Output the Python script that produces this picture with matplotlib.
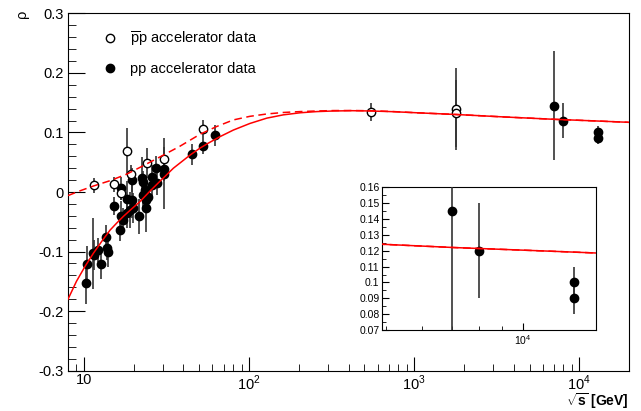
import math
import matplotlib
matplotlib.use('Agg')
import matplotlib.pyplot as plt
from matplotlib.lines import Line2D
from matplotlib.ticker import FixedLocator, FuncFormatter, MultipleLocator, LogLocator, NullFormatter

plt.rcParams['font.family'] = ['Liberation Sans', 'DejaVu Sans']
plt.rcParams['mathtext.fontset'] = 'custom'
plt.rcParams['mathtext.rm'] = 'Liberation Sans'
plt.rcParams['mathtext.bf'] = 'Liberation Sans:bold'

# pp data: sqrt(s) [GeV], rho, error
pp_s = [10.24, 10.47, 11.39, 11.50, 12.11, 12.63, 13.59, 13.84, 14.04, 15.26,
        16.41, 16.69, 16.69, 17.31, 18.15, 18.15, 19.0, 19.46, 19.46, 19.9,
        21.64, 22.37, 22.88, 22.88, 23.43, 23.76, 23.76, 24.53, 25.72, 25.72,
        27.32, 27.58, 30.54, 30.54, 44.95, 52.42, 62.23,
        7000, 8000, 13000, 13000]
pp_rho = [-0.153, -0.121, -0.103, -0.106, -0.097, -0.121, -0.075, -0.094, -0.101, -0.023,
          -0.063, -0.040, 0.006, -0.047, -0.036, -0.011, -0.030, 0.020, -0.013, -0.027,
          -0.041, 0.023, 0.016, -0.005, 0.003, -0.027, -0.013, -0.008, 0.026, 0.012,
          0.040, 0.015, 0.038, 0.031, 0.063, 0.077, 0.095,
          0.145, 0.12, 0.10, 0.09]
pp_err = [0.035, 0.03, 0.06, 0.025, 0.02, 0.025, 0.02, 0.02, 0.025, 0.015,
          0.02, 0.025, 0.02, 0.02, 0.025, 0.03, 0.03, 0.02, 0.03, 0.025,
          0.03, 0.035, 0.02, 0.02, 0.02, 0.04, 0.02, 0.02, 0.02, 0.02,
          0.02, 0.02, 0.02, 0.06, 0.017, 0.013, 0.018,
          0.091, 0.03, 0.01, 0.01]

# pbar-p data
ppbar_s = [11.50, 15.26, 16.69, 18.15, 19.2, 24.2, 30.4, 52.4, 546, 1800, 1800]
ppbar_rho = [0.011, 0.013, -0.001, 0.068, 0.030, 0.049, 0.056, 0.106, 0.135, 0.140, 0.132]
ppbar_err = [0.012, 0.013, 0.013, 0.04, 0.015, 0.025, 0.02, 0.015, 0.015, 0.069, 0.056]

# fit curves
fit_pp_s = [8.0, 9.0, 10.14, 11.39, 12.8, 14.38, 15.8, 17.31, 19.5, 21.85, 25.0, 28.6,
            34.8, 43.9, 50.0, 56.6, 66.7, 80.3, 101, 128, 161, 204, 257, 324,
            420, 547, 750, 1038, 1830, 3500, 7080, 12000, 19900]
fit_pp_rho = [-0.180, -0.150, -0.125, -0.103, -0.083, -0.064, -0.052, -0.041, -0.028, -0.016,
              0.001, 0.017, 0.040, 0.062, 0.073, 0.082, 0.093, 0.104, 0.115, 0.124,
              0.1295, 0.133, 0.135, 0.136, 0.1365, 0.136, 0.1348, 0.133, 0.130, 0.126,
              0.122, 0.1195, 0.117]
fit_ppbar_s = [8.0, 9.46, 11.39, 14.38, 18.15, 22.8, 28.9, 38.2, 50.5, 63.7, 80.3,
               101, 128, 161, 204, 257, 324, 420, 547, 750, 1038, 1830, 3500, 7080,
               12000, 19900]
fit_ppbar_rho = [-0.006, 0.002, 0.010, 0.019, 0.030, 0.044, 0.059, 0.077, 0.097, 0.110,
                 0.121, 0.127, 0.131, 0.1335, 0.135, 0.136, 0.1367, 0.1368, 0.1364, 0.1350,
                 0.133, 0.130, 0.126, 0.122, 0.1195, 0.117]

fig = plt.figure(figsize=(6.41, 4.11), dpi=100)
ax = fig.add_axes([68 / 641, 40.3 / 411, 561 / 641, 357.4 / 411])


def draw(a, ms):
    a.errorbar(pp_s, pp_rho, yerr=pp_err, fmt='o', color='black', ms=ms,
               ecolor='#333333', elinewidth=1.2, capsize=0, zorder=3)
    a.errorbar(ppbar_s, ppbar_rho, yerr=ppbar_err, fmt='o', color='black', ms=ms,
               mfc='white', mew=1.0, ecolor='#333333', elinewidth=1.2, capsize=0, zorder=3)
    a.plot(fit_ppbar_s, fit_ppbar_rho, color='red', lw=1.1, dashes=(5, 3), zorder=4)
    a.plot(fit_pp_s, fit_pp_rho, color='red', lw=1.1, zorder=4)
    a.set_xscale('log')


draw(ax, 6)
ax.set_xlim(8, 20000)
ax.set_ylim(-0.3, 0.3)
ax.xaxis.set_major_locator(FixedLocator([10, 100, 1000, 10000]))
ax.xaxis.set_major_formatter(FuncFormatter(
    lambda v, p: '10' if v == 10 else r'$10^{%d}$' % round(math.log10(v))))
ax.xaxis.set_minor_locator(LogLocator(base=10, subs=range(2, 10)))
ax.xaxis.set_minor_formatter(NullFormatter())
ax.yaxis.set_major_locator(MultipleLocator(0.1))
ax.yaxis.set_minor_locator(MultipleLocator(0.02))
ax.yaxis.set_major_formatter(FuncFormatter(lambda v, p: '%g' % round(v, 2)))
ax.tick_params(which='both', direction='in', top=False, right=False, labelsize=10.5)
ax.tick_params(axis='y', which='major', length=12, pad=3)
ax.tick_params(axis='y', which='minor', length=6)
ax.tick_params(axis='x', which='major', length=10, pad=2)
ax.tick_params(axis='x', which='minor', length=5)

fig.text(22 / 641, 1 - 10 / 411, 'ρ', rotation=90, ha='center', va='top', fontsize=10.5)
fig.text(629 / 641, 1 - 406 / 411, r'$\sqrt{\mathbf{s}}$ [GeV]', ha='right', va='baseline',
         fontsize=10, fontweight='bold')

handles = [Line2D([], [], ls='none', marker='o', ms=6, mfc='white', mec='black'),
           Line2D([], [], ls='none', marker='o', ms=6, color='black')]
ax.legend(handles, [r'$\overline{\mathrm{p}}$p accelerator data', 'pp accelerator data'],
          loc='upper left', bbox_to_anchor=(95 / 641, 1 - 22 / 411),
          bbox_transform=fig.transFigure, frameon=False, fontsize=10.5,
          handlelength=1.0, handletextpad=0.9, labelspacing=0.9, borderpad=0)

# inset
axi = fig.add_axes([382.3 / 641, 81 / 411, 213.7 / 641, 142.7 / 411])
draw(axi, 6)
axi.set_xlim(4914, 14500)
axi.set_ylim(0.07, 0.16)
axi.xaxis.set_major_locator(FixedLocator([10000]))
axi.xaxis.set_major_formatter(FuncFormatter(lambda v, p: r'$10^{4}$'))
axi.xaxis.set_minor_locator(LogLocator(base=10, subs=range(2, 10)))
axi.xaxis.set_minor_formatter(NullFormatter())
axi.yaxis.set_major_locator(MultipleLocator(0.01))
axi.yaxis.set_minor_locator(MultipleLocator(0.005))
axi.yaxis.set_major_formatter(FuncFormatter(lambda v, p: '%g' % round(v, 3)))
axi.tick_params(which='both', direction='in', top=False, right=False, labelsize=7.5)
axi.tick_params(which='major', length=5, pad=2)
axi.tick_params(which='minor', length=3)

fig.savefig('out.png', dpi=100)
